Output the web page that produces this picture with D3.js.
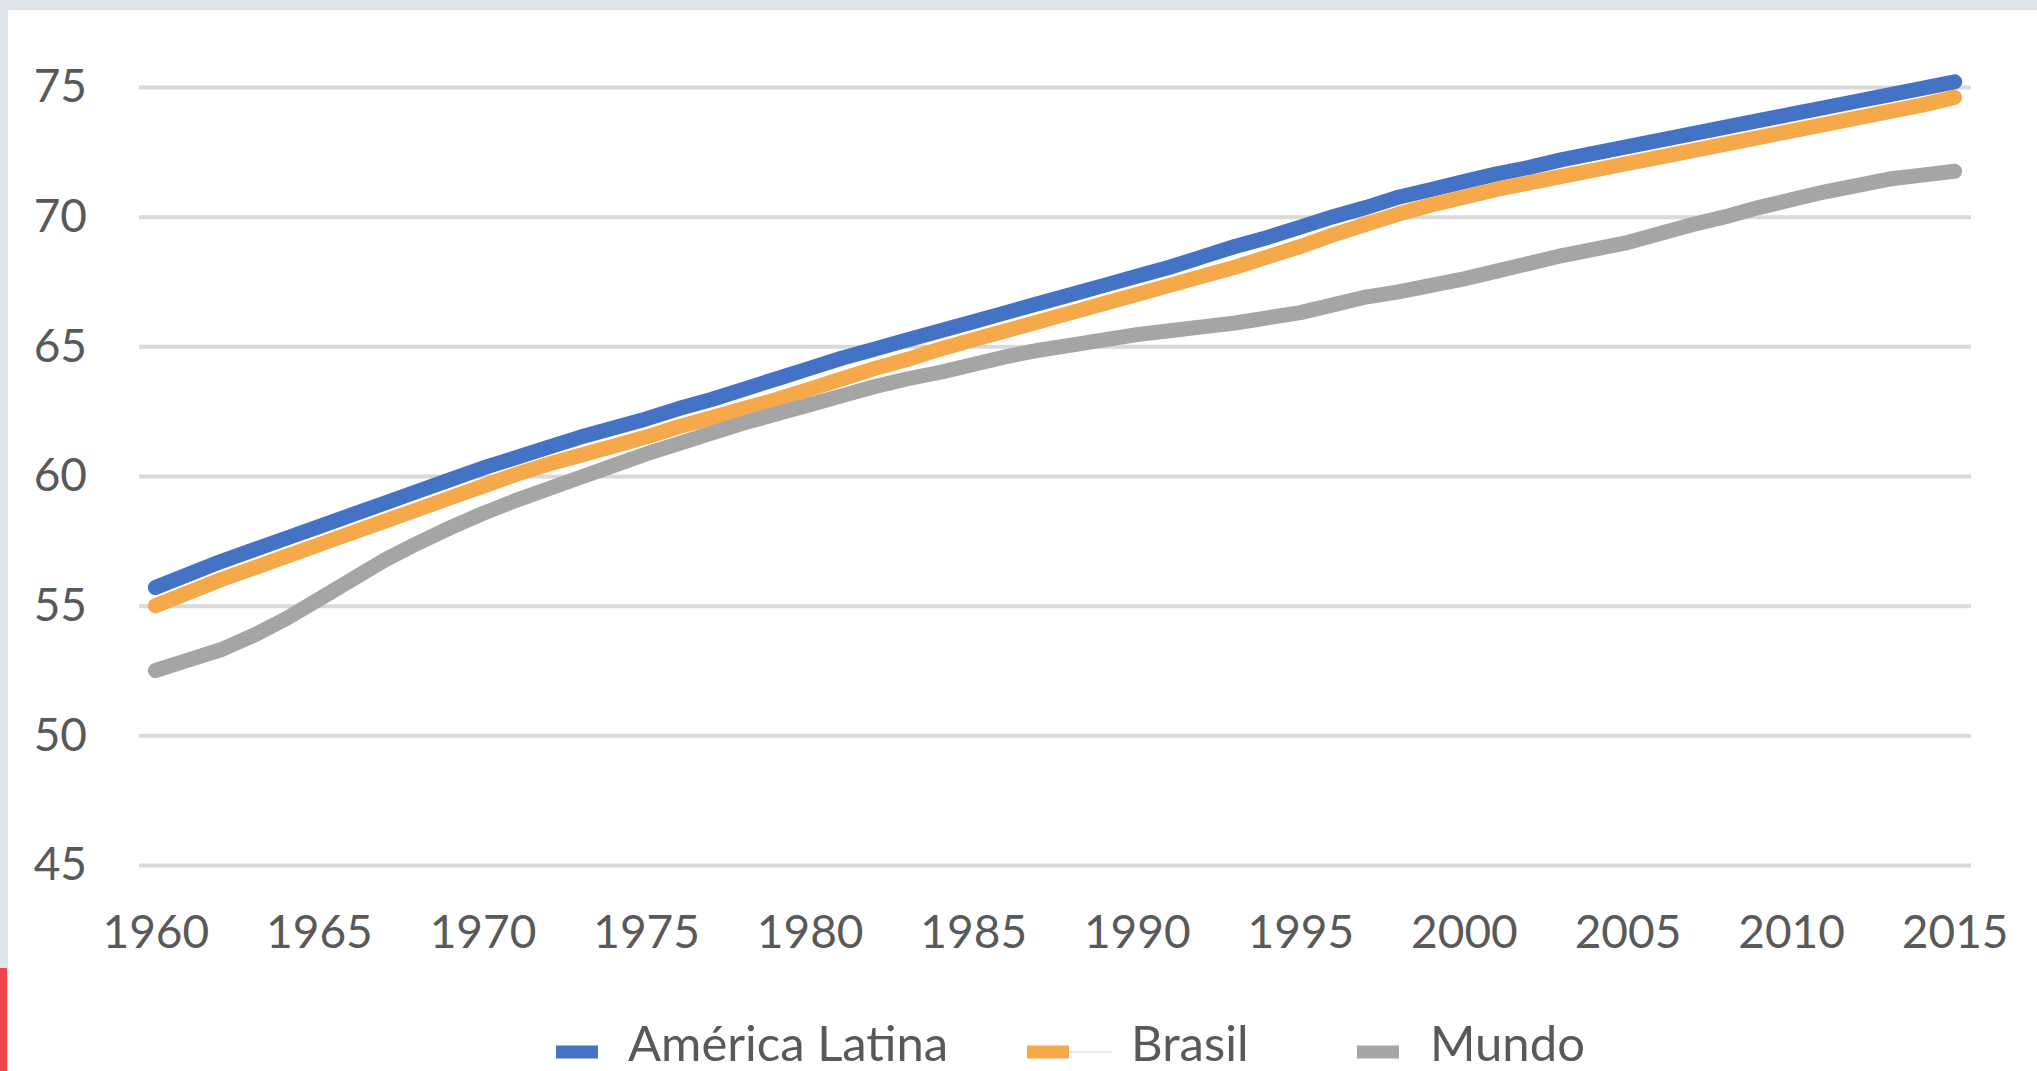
<!DOCTYPE html>
<html>
<head>
<meta charset="utf-8">
<script src="https://cdn.jsdelivr.net/npm/d3@7"></script>
<style>
  html, body { margin: 0; padding: 0; background: #dde4ec; }
  svg { display: block; }
  text { font-family: Lato, "Open Sans", sans-serif; fill: #595959; }
</style>
</head>
<body>
<svg id="chart" width="2037" height="1071"></svg>
<script>
const years = [1960,1961,1962,1963,1964,1965,1966,1967,1968,1969,
  1970,1971,1972,1973,1974,1975,1976,1977,1978,1979,
  1980,1981,1982,1983,1984,1985,1986,1987,1988,1989,
  1990,1991,1992,1993,1994,1995,1996,1997,1998,1999,
  2000,2001,2002,2003,2004,2005,2006,2007,2008,2009,
  2010,2011,2012,2013,2014,2015];

const americaLatina = [55.7,56.2,56.7,57.15,57.6,58.05,58.5,58.95,59.4,59.85,
  60.3,60.7,61.1,61.5,61.85,62.2,62.6,62.95,63.35,63.75,
  64.15,64.55,64.9,65.25,65.6,65.95,66.3,66.65,67.0,67.35,
  67.7,68.05,68.45,68.85,69.2,69.6,70.0,70.35,70.75,71.05,
  71.35,71.65,71.9,72.2,72.45,72.7,72.95,73.2,73.45,73.7,
  73.95,74.2,74.45,74.7,74.95,75.2];

const brasil = [55.0,55.5,56.0,56.45,56.9,57.35,57.8,58.25,58.7,59.15,
  59.6,60.05,60.45,60.8,61.15,61.5,61.9,62.25,62.6,62.95,
  63.35,63.75,64.15,64.5,64.9,65.25,65.6,65.95,66.3,66.65,
  67.0,67.35,67.7,68.05,68.45,68.85,69.3,69.7,70.1,70.45,
  70.75,71.05,71.3,71.55,71.8,72.05,72.3,72.55,72.8,73.05,
  73.3,73.55,73.8,74.05,74.3,74.6];

const mundo = [52.5,52.9,53.3,53.85,54.5,55.25,56.0,56.75,57.4,58.0,
  58.55,59.05,59.5,59.95,60.4,60.85,61.25,61.65,62.05,62.4,
  62.75,63.1,63.45,63.75,64.0,64.3,64.6,64.85,65.05,65.25,
  65.45,65.6,65.75,65.9,66.1,66.3,66.6,66.9,67.1,67.35,
  67.6,67.9,68.2,68.5,68.75,69.0,69.35,69.7,70.0,70.35,
  70.65,70.95,71.2,71.45,71.6,71.75];

const xTickLabels = [1960,1965,1970,1975,1980,1985,1990,1995,2000,2005,2010,2015];
const yTickLabels = [45,50,55,60,65,70,75];

const seriesNames = ["América Latina", "Brasil", "Mundo"];
const seriesValues = [americaLatina, brasil, mundo];
const seriesColors = ["#4472C4", "#F5A94A", "#A5A5A5"];

const svg = d3.select("#chart");
const W = 2037, H = 1071;
const plot = { left: 139, right: 1971, top: 87, bottom: 865 };

// page background + white panel
svg.append("rect").attr("x", 0).attr("y", 0).attr("width", W).attr("height", H).attr("fill", "#dde4ec");
svg.append("rect").attr("x", 8).attr("y", 10).attr("width", W - 8).attr("height", H - 10).attr("fill", "#ffffff");
svg.append("rect").attr("x", 0).attr("y", 968).attr("width", 7).attr("height", H - 968).attr("fill", "#f04848");

const x = d3.scalePoint().domain(years).range([plot.left, plot.right]).padding(0.5);
const y = d3.scaleLinear().domain([45, 75]).range([plot.bottom, plot.top]);

// gridlines
const grid = svg.append("g").attr("transform", `translate(${plot.left},0)`)
  .call(d3.axisLeft(y).tickValues(yTickLabels).tickSize(-(plot.right - plot.left)).tickFormat(""));
grid.select(".domain").remove();
grid.selectAll("line").attr("stroke", "#d9d9d9").attr("stroke-width", 4);

// y axis labels
const yAxis = svg.append("g").attr("transform", `translate(${plot.left},0)`)
  .call(d3.axisLeft(y).tickValues(yTickLabels).tickSize(0).tickPadding(52));
yAxis.select(".domain").remove();
yAxis.selectAll("text").attr("font-size", 46).attr("fill", "#595959")
  .style("font-family", "Lato, 'Open Sans', sans-serif");

// x axis labels
const xAxis = svg.append("g").attr("transform", `translate(0,${plot.bottom})`)
  .call(d3.axisBottom(x).tickValues(xTickLabels).tickSize(0).tickPadding(50));
xAxis.select(".domain").remove();
xAxis.selectAll("text").attr("font-size", 46).attr("fill", "#595959")
  .style("font-family", "Lato, 'Open Sans', sans-serif");

// lines
const line = d3.line().x((d, i) => x(years[i])).y(d => y(d));
seriesValues.forEach((vals, k) => {
  svg.append("path")
    .datum(vals)
    .attr("d", line)
    .attr("fill", "none")
    .attr("stroke", seriesColors[k])
    .attr("stroke-width", 15)
    .attr("stroke-linecap", "round")
    .attr("stroke-linejoin", "round");
});

// legend
const legendSwatchX = [556, 1027, 1357];
const legendTextX = [628, 1131, 1430];
const legendY = 1052;
const legend = svg.append("g");
seriesNames.forEach((name, k) => {
  legend.append("line")
    .attr("x1", legendSwatchX[k]).attr("x2", legendSwatchX[k] + 42)
    .attr("y1", legendY).attr("y2", legendY)
    .attr("stroke", seriesColors[k]).attr("stroke-width", 13);
  legend.append("text")
    .attr("x", legendTextX[k]).attr("y", 1061)
    .attr("font-size", 49)
    .text(name);
});
legend.append("line")
  .attr("x1", 1069).attr("x2", 1112).attr("y1", legendY).attr("y2", legendY)
  .attr("stroke", "#f4e4de").attr("stroke-width", 2);
</script>
</body>
</html>
